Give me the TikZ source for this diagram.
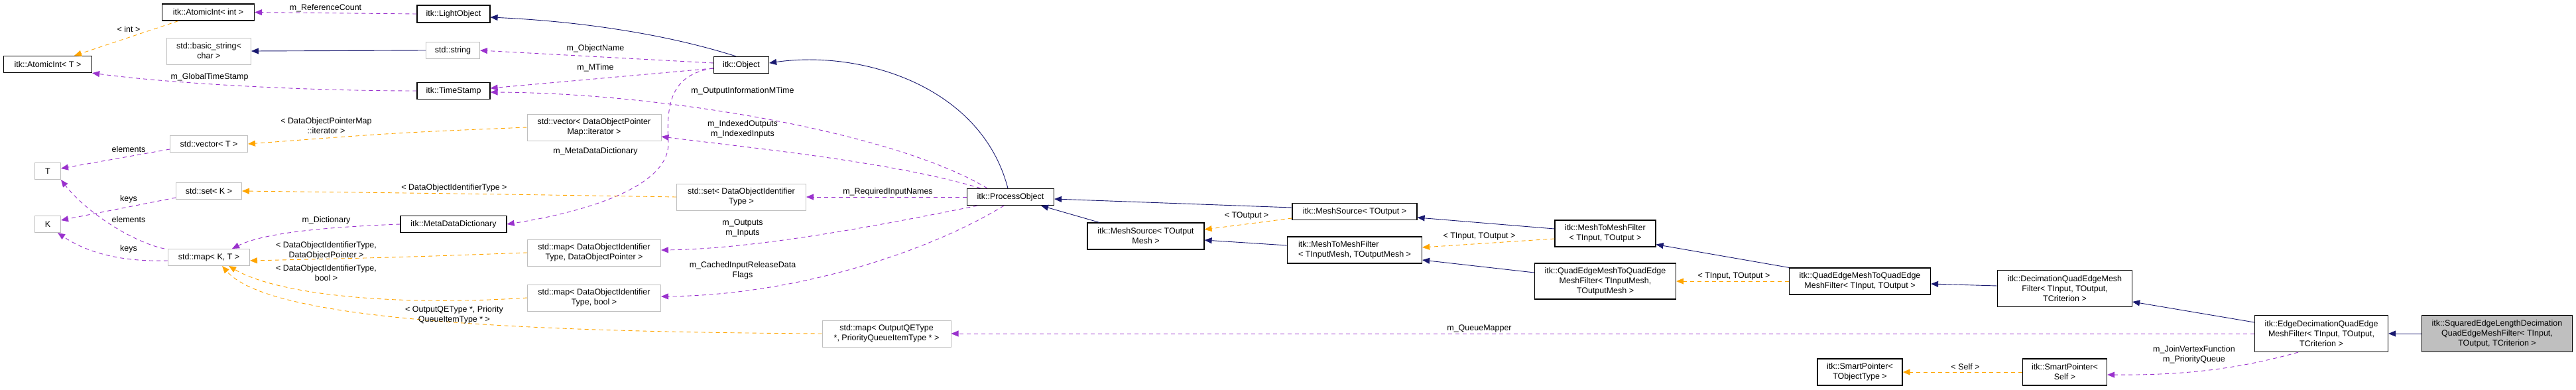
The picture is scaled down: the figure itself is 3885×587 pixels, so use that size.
\documentclass[tikz,border=0pt]{standalone}
\usepackage{fontspec}
\setmainfont{Liberation Sans}
\usetikzlibrary{arrows.meta}
\definecolor{usec}{HTML}{9A32CD}
\definecolor{tplc}{HTML}{FFA500}
\definecolor{inhc}{HTML}{191970}
\definecolor{grayb}{HTML}{BFBFBF}
\tikzset{
  cls/.style={draw=black, line width=1.2pt, inner sep=2pt, align=center, font=\fontsize{12.5}{15}\selectfont},
  ext/.style={cls, draw=grayb, line width=1pt},
  cur/.style={cls, fill=grayb},
  lbl/.style={align=center, inner sep=0pt, font=\fontsize{12.5}{15}\selectfont},
  use/.style={draw=usec, line width=0.9pt, dash pattern=on 6pt off 5pt, -{Triangle[length=11pt,width=9pt]}},
  tpl/.style={draw=tplc, line width=0.9pt, dash pattern=on 6pt off 5pt, -{Triangle[length=11pt,width=9pt]}},
  inh/.style={draw=inhc, line width=0.9pt, -{Triangle[length=11pt,width=9pt]}},
}
\begin{document}
\begin{tikzpicture}[x=1pt,y=-1pt]
\useasboundingbox (0,0) rectangle (3885,587);
% nodes
\node[cls, minimum width=139, minimum height=25] (aint) at (314,18.5) {itk::AtomicInt< int >};
\node[cls, minimum width=133, minimum height=25] (atT) at (72,97) {itk::AtomicInt< T >};
\node[ext, minimum width=127, minimum height=40] (bstr) at (315,77) {std::basic\_string<\\char >};
\node[ext, minimum width=117, minimum height=25] (vecT) at (315,217) {std::vector< T >};
\node[ext, minimum width=39, minimum height=25] (T) at (72,258) {T};
\node[ext, minimum width=99, minimum height=25] (setK) at (315,288) {std::set< K >};
\node[ext, minimum width=39, minimum height=25] (K) at (72,338) {K};
\node[ext, minimum width=123, minimum height=25] (mapKT) at (315,388) {std::map< K, T >};
\node[cls, minimum width=110, minimum height=26] (light) at (684,21) {itk::LightObject};
\node[ext, minimum width=81, minimum height=25] (str) at (683,76) {std::string};
\node[cls, minimum width=110, minimum height=25] (ts) at (684,137) {itk::TimeStamp};
\node[cls, minimum width=160, minimum height=25] (mdd) at (684,338) {itk::MetaDataDictionary};
\node[cls, minimum width=83, minimum height=25] (obj) at (1118,98) {itk::Object};
\node[ext, minimum width=202, minimum height=40] (vecD) at (896,192) {std::vector< DataObjectPointer\\Map::iterator >};
\node[ext, minimum width=195, minimum height=40] (setD) at (1118,297) {std::set< DataObjectIdentifier\\Type >};
\node[ext, minimum width=201, minimum height=40] (mapDP) at (896,381) {std::map< DataObjectIdentifier\\Type, DataObjectPointer >};
\node[ext, minimum width=201, minimum height=40] (mapDB) at (896,449) {std::map< DataObjectIdentifier\\Type, bool >};
\node[ext, minimum width=194, minimum height=40] (mapQ) at (1337,503) {std::map< OutputQEType\\*, PriorityQueueItemType * >};
\node[cls, minimum width=131, minimum height=25] (po) at (1524,297) {itk::ProcessObject};
\node[cls, minimum width=176, minimum height=40] (msTM) at (1728,356) {itk::MeshSource< TOutput\\Mesh >};
\node[cls, minimum width=188, minimum height=25] (msT) at (2043,319) {itk::MeshSource< TOutput >};
\node[cls, minimum width=203, minimum height=40, align=left] (m2mM) at (2043,377) {itk::MeshToMeshFilter\\< TInputMesh, TOutputMesh >};
\node[cls, minimum width=152, minimum height=40] (m2mT) at (2421,352) {itk::MeshToMeshFilter\\< TInput, TOutput >};
\node[cls, minimum width=213, minimum height=54] (qemM) at (2421,424) {itk::QuadEdgeMeshToQuadEdge\\MeshFilter< TInputMesh,\\TOutputMesh >};
\node[cls, minimum width=213, minimum height=40] (qemT) at (2805,424) {itk::QuadEdgeMeshToQuadEdge\\MeshFilter< TInput, TOutput >};
\node[cls, minimum width=128, minimum height=40] (spO) at (2805,561) {itk::SmartPointer<\\TObjectType >};
\node[cls, minimum width=203, minimum height=55] (dec) at (3114,435) {itk::DecimationQuadEdgeMesh\\Filter< TInput, TOutput,\\TCriterion >};
\node[cls, minimum width=201, minimum height=55] (edge) at (3501,503) {itk::EdgeDecimationQuadEdge\\MeshFilter< TInput, TOutput,\\TCriterion >};
\node[cur, minimum width=227, minimum height=55] (sq) at (3766,503) {itk::SquaredEdgeLengthDecimation\\QuadEdgeMeshFilter< TInput,\\TOutput, TCriterion >};
\node[cls, minimum width=127, minimum height=40] (spS) at (3114,561) {itk::SmartPointer<\\Self >};
% usage edges
\draw[use] (light.west) -- (aint.east);
\draw[use] (ts.west) .. controls (450,137) and (250,125) .. (atT.south east);
\draw[use] ([yshift=3pt]obj.west) -- (str.east);
\draw[use] ([yshift=-5pt]obj.west) -- ([yshift=4pt]ts.east);
\draw[use] ([xshift=-35pt]po.north) .. controls (1350,200) and (1000,140) .. ([yshift=-2pt]ts.east);
\draw[use] ([yshift=-5pt]obj.west) .. controls (1010,112) and (1005,160) .. (1008,215) .. controls (1010,290) and (850,325) .. (mdd.east);
\draw[use] ([xshift=-45pt]po.north) .. controls (1350,245) and (1150,225) .. ([yshift=-14pt]vecD.east);
\draw[use] (po.west) -- (setD.east);
\draw[use] ([xshift=-50pt]po.south) .. controls (1350,335) and (1150,375) .. ([yshift=4pt]mapDP.east);
\draw[use] ([xshift=-10pt]po.south) .. controls (1400,380) and (1200,445) .. ([yshift=2pt]mapDB.east);
\draw[use] (edge.west) -- (mapQ.east);
\draw[use] ([xshift=-35pt]edge.south) .. controls (3380,555) and (3300,566) .. ([yshift=-4pt]spS.east);
\draw[use] ([yshift=-8pt]vecT.west) -- ([yshift=4pt]T.east);
\draw[use] ([yshift=-10pt]setK.west) -- ([yshift=6pt]K.east);
\draw[use] ([xshift=-5pt]mapKT.north west) .. controls (200,365) and (130,320) .. (T.south east);
\draw[use] ([yshift=-5pt]mapKT.west) .. controls (180,395) and (130,380) .. ([xshift=-5pt]K.south east);
\draw[use] (mdd.west) .. controls (500,342) and (400,350) .. ([xshift=35pt]mapKT.north);
% template edges
\draw[tpl] ([xshift=-45pt]aint.south) -- ([xshift=40pt]atT.north);
\draw[tpl] (vecD.west) .. controls (600,200) .. (vecT.east);
\draw[tpl] (setD.west) .. controls (700,292) .. (setK.east);
\draw[tpl] (mapDP.west) .. controls (600,388) .. ([yshift=-5pt]mapKT.east);
\draw[tpl] (mapDB.west) .. controls (600,462) and (420,445) .. ([xshift=30pt]mapKT.south);
\draw[tpl] (mapQ.west) .. controls (700,500) and (400,475) .. ([xshift=20pt]mapKT.south);
\draw[tpl] ([yshift=-10pt]msT.west) -- ([yshift=10pt]msTM.east);
\draw[tpl] ([yshift=-8pt]m2mT.west) -- ([yshift=4pt]m2mM.east);
\draw[tpl] (qemT.west) -- (qemM.east);
\draw[tpl] (spS.west) -- (spO.east);
% inheritance edges
\draw[inh] ([xshift=-8pt]obj.north) .. controls (1000,50) and (870,32) .. ([yshift=-5pt]light.east);
\draw[inh] (str.west) -- (bstr.east);
\draw[inh] ([xshift=-4pt]po.north) .. controls (1480,130) and (1300,75) .. ([yshift=3pt]obj.east);
\draw[inh] ([xshift=-70pt]msTM.north) -- ([xshift=-20pt]po.south east);
\draw[inh] ([yshift=6pt]msT.west) -- ([yshift=-3pt]po.east);
\draw[inh] ([yshift=7pt]m2mM.west) -- ([yshift=-6pt]msTM.east);
\draw[inh] ([yshift=7pt]m2mT.west) -- ([yshift=-9pt]msT.east);
\draw[inh] (qemT.north west) -- ([yshift=4pt]m2mT.south east);
\draw[inh] ([yshift=13pt]qemM.west) -- ([yshift=-15pt]m2mM.east);
\draw[inh] ([yshift=4pt]dec.west) -- ([yshift=-4pt]qemT.east);
\draw[inh] ([yshift=17pt]edge.west) -- ([yshift=-20pt]dec.east);
\draw[inh] (sq.west) -- (edge.east);
% labels
\node[lbl] (l1) at (491,12) {m\_ReferenceCount};
\node[lbl] (l2) at (316,116) {m\_GlobalTimeStamp};
\node[lbl] (l3) at (194,44) {< int >};
\node[lbl] (l4) at (194,225) {elements};
\node[lbl] (l5) at (194,300) {keys};
\node[lbl] (l6) at (194,331) {elements};
\node[lbl] (l7) at (194,375) {keys};
\node[lbl] (l8) at (492,190) {< DataObjectPointerMap\\::iterator >};
\node[lbl] (l9) at (492,332) {m\_Dictionary};
\node[lbl] (l10) at (492,378) {< DataObjectIdentifierType,\\DataObjectPointer >};
\node[lbl] (l11) at (492,412) {< DataObjectIdentifierType,\\bool >};
\node[lbl] (l12) at (685,283) {< DataObjectIdentifierType >};
\node[lbl] (l13) at (685,475) {< OutputQEType *, Priority\\QueueItemType * >};
\node[lbl] (l14) at (898,73) {m\_ObjectName};
\node[lbl] (l15) at (898,102) {m\_MTime};
\node[lbl] (l16) at (1120,137) {m\_OutputInformationMTime};
\node[lbl] (l17) at (1120,195) {m\_IndexedOutputs\\m\_IndexedInputs};
\node[lbl] (l18) at (898,228) {m\_MetaDataDictionary};
\node[lbl] (l19) at (1339,289) {m\_RequiredInputNames};
\node[lbl] (l20) at (1120,344) {m\_Outputs\\m\_Inputs};
\node[lbl] (l21) at (1120,408) {m\_CachedInputReleaseData\\Flags};
\node[lbl] (l22) at (1880,325) {< TOutput >};
\node[lbl] (l23) at (2231,356) {< TInput, TOutput >};
\node[lbl] (l24) at (2231,495) {m\_QueueMapper};
\node[lbl] (l25) at (2615,416) {< TInput, TOutput >};
\node[lbl] (l26) at (2964,553) {< Self >};
\node[lbl] (l27) at (3309,535) {m\_JoinVertexFunction\\m\_PriorityQueue};
\end{tikzpicture}
\end{document}
